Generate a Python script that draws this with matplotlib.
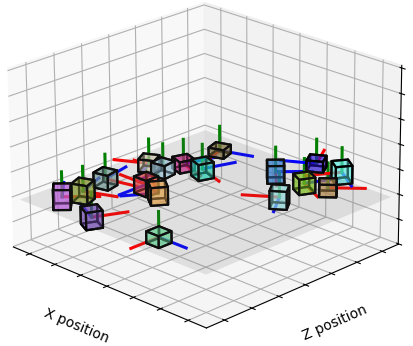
import numpy as np
import matplotlib
matplotlib.use('Agg')
import matplotlib.pyplot as plt
from mpl_toolkits.mplot3d.art3d import Poly3DCollection

# Cube centres
xs = [-2.7, -2.58, -2.78, -1.12, -1.7, -1.04, -2.2, -2.73, -2.03, -1.4, -2.0, 1.08,
      0.18, 1.48, 1.3, 0.58, 1.97, 1.5]
ys = [-2.7, -2.05, -1.04, -3.1, -0.55, -0.75, 0.57, 0.55, 1.19, 1.29, 2.57, -2.79,
      2.52, 1.3, 2.46, 3.72, 2.67, 3.74]
zs = [2.0] * 18
# Direction of the red axis, as a vector in the ground plane
red_x = [0.7, 0.93, 0.97, 0.42, -1.0, -0.82, -0.99, -0.88, 0.95, 0.95, 0.32, 0.0,
         0.7, -0.82, 0.9, -0.51, 0.75, -0.54]
red_y = [0.7, 0.37, 0.22, 0.9, 0.0, 0.57, -0.14, -0.47, -0.3, -0.32, -0.95, -1.0,
         -0.7, -0.57, -0.44, 0.86, 0.66, -0.84]
cube_heights = [0.8, 0.75, 0.6, 0.68, 0.66, 0.71, 0.53, 0.5, 0.46, 0.65, 0.35, 0.46,
                0.72, 0.72, 0.62, 0.45, 0.5, 0.72]
cube_colors = ['#c858f0', '#88a020', '#74a09c', '#7040c0', '#f03838', '#f4a844',
               '#a0d0e8', '#e0d8b8', '#d01888', '#18e0c0', '#887438', '#60e098',
               '#2880e0', '#98f0f0', '#80d010', '#3018d8', '#c08c44', '#58e8e0']
SIDE = 0.46

fig = plt.figure(figsize=(4.13, 3.46), dpi=100)
S = 422
ax = fig.add_axes([(199.5-S/2)/413, (183-S/2)/346, S/413, S/346], projection='3d')
ax.set_proj_type('persp', focal_length=1.3)
ax.view_init(elev=22, azim=-45, roll=0.4)
ax.set_xlim(-3.65, 3.65); ax.set_ylim(-3.65, 3.65); ax.set_zlim(-0.02, 7.1)
ax.set_box_aspect((4, 4, 2.8))
ax.set_xticks(range(-3, 4)); ax.set_yticks(range(-3, 4)); ax.set_zticks(range(0, 8))
ax.set_xticklabels([]); ax.set_yticklabels([]); ax.set_zticklabels([])
ax.set_xlabel('X position', labelpad=3); ax.set_ylabel('Z position', labelpad=2)

xx, yy = np.meshgrid([-3.5, 3.5], [-3.5, 3.5])
ax.plot_surface(xx, yy, 1.9 + 0*xx, color='gray', alpha=0.15)

for cx, cy, cz, rx, ry, h, col in zip(xs, ys, zs, red_x, red_y, cube_heights, cube_colors):
    a = np.array([rx, ry, 0.0]); a /= np.linalg.norm(a)
    b = np.array([-a[1], a[0], 0.0])
    c = np.array([cx, cy, cz])
    up = np.array([0, 0, 1.0])
    ax.plot(*zip(c, c + a), color='red', lw=2.2)
    ax.plot(*zip(c, c + b), color='blue', lw=2.2)
    ax.plot(*zip(c, c + up), color='green', lw=2.2)
    v = [c + sa*a*SIDE/2 + sb*b*SIDE/2 + sz*up*h/2
         for sa in (-1, 1) for sb in (-1, 1) for sz in (-1, 1)]
    faces = [[v[0], v[1], v[3], v[2]], [v[4], v[5], v[7], v[6]],
             [v[0], v[1], v[5], v[4]], [v[2], v[3], v[7], v[6]],
             [v[0], v[2], v[6], v[4]], [v[1], v[3], v[7], v[5]]]
    ax.add_collection3d(Poly3DCollection(faces, facecolors=col, alpha=0.45,
                                         edgecolors='black', linewidths=1.6))
fig.savefig('out.png', dpi=100)
